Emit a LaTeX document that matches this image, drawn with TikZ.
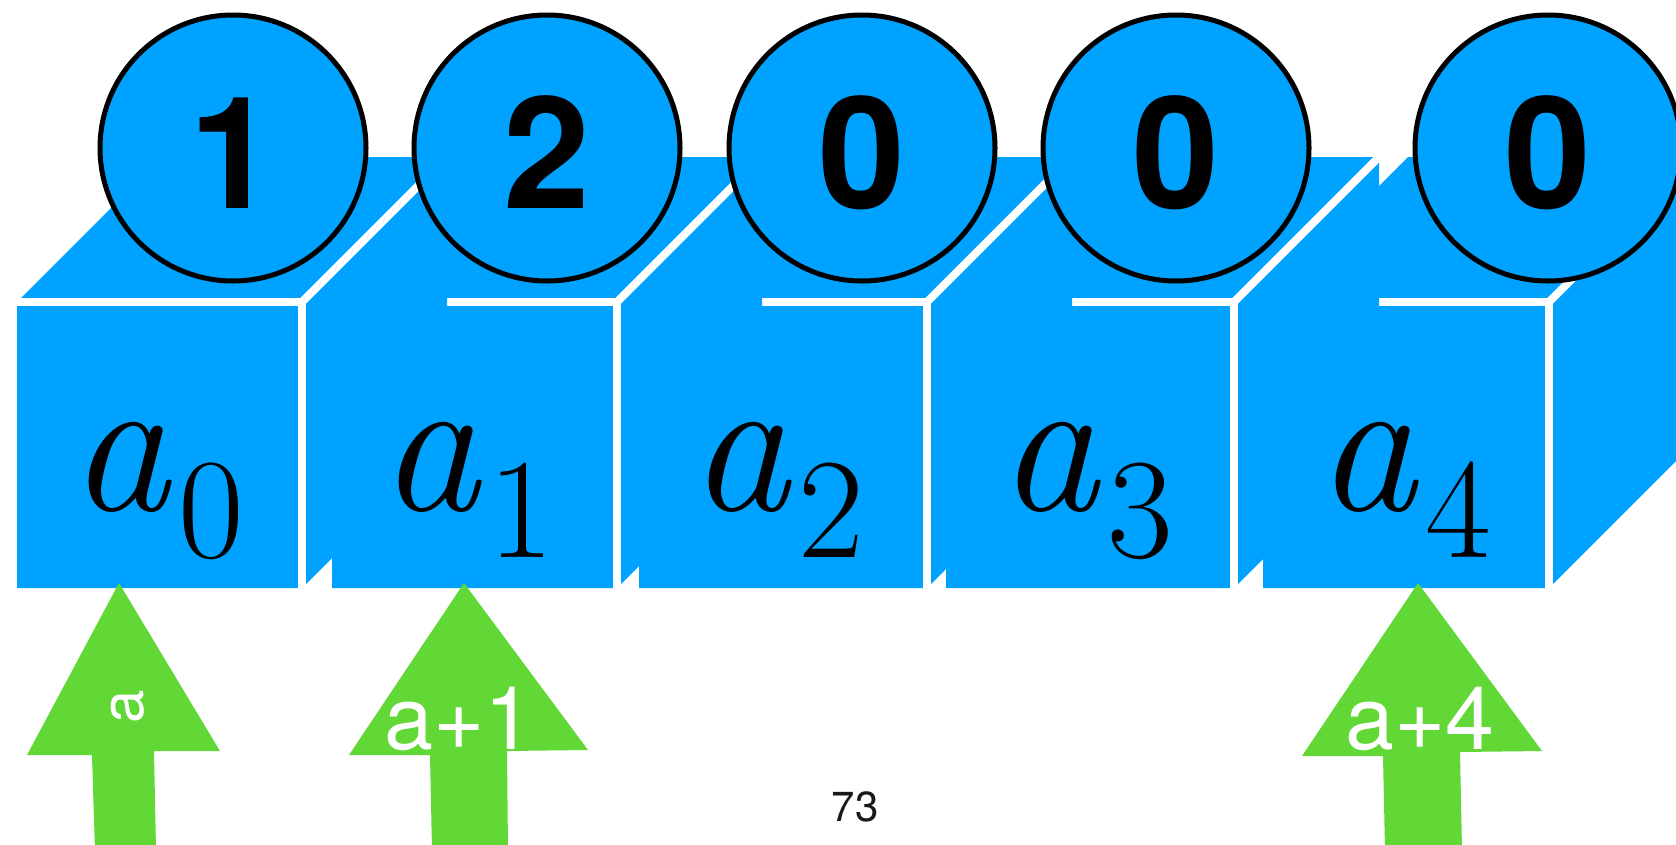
\documentclass[tikz,border=0pt]{standalone}
\usepackage{fontspec}
\newfontfamily\heros{TeX Gyre Heros}
\definecolor{cubeblue}{HTML}{00A2FF}
\definecolor{arrowgreen}{HTML}{61D836}
\newcommand\drawcube[2]{%
  \fill[cubeblue] (#1,588) -- (#1,302) -- ({#1+145},157) -- ({#2+145},157)
     -- ({#2+145},443) -- (#2,588) -- cycle;
  \draw[cubeedge] (#1,302) -- (#2,302) -- (#2,588);
  \draw[cubeedge] (#2,302) -- ({#2+145},157);
}
\newcommand\cellname[2]{\fontsize{200}{200}\selectfont\textit{#1}\kern6pt\raisebox{-47pt}{\fontsize{143}{143}\selectfont #2}}
\begin{document}
\begin{tikzpicture}[x=1pt,y=-1pt,
  cubeedge/.style={draw=white,line width=8pt},
  numcircle/.style={circle,draw=black,line width=5pt,fill=cubeblue,minimum size=266pt,inner sep=0pt},
  digit/.style={font=\heros\bfseries\fontsize{156}{156}\selectfont,anchor=base,inner sep=0pt},
  cellstyle/.style={anchor=base,inner sep=0pt,text=black},
  arrowshape/.style={fill=arrowgreen,draw=none},
  arrowlabel/.style={text=white,font=\heros\fontsize{88}{88}\selectfont,anchor=base,inner sep=0pt}]
\useasboundingbox (0,0) rectangle (1676,844);
\clip (0,0) rectangle (1676,844);
\fill[white] (0,0) rectangle (1676,844);
% cubes, right to left so that left cubes lie on top
\drawcube{1263}{1549}
\drawcube{946}{1234}
\drawcube{639}{927}
\drawcube{332}{617}
\drawcube{17}{302}
% cell names
\node[cellstyle] (n0) at (157,510) {\cellname{a}{0}};
\node[cellstyle] (n1) at (467,510) {\cellname{a}{1}};
\node[cellstyle] (n2) at (777,510) {\cellname{a}{2}};
\node[cellstyle] (n3) at (1086,510) {\cellname{a}{3}};
\node[cellstyle] (n4) at (1404,510) {\cellname{a}{4}};
% value circles
\node[numcircle] (c0) at (233,148) {};
\node[numcircle] (c1) at (547,148) {};
\node[numcircle] (c2) at (862,148) {};
\node[numcircle] (c3) at (1176,148) {};
\node[numcircle] (c4) at (1548,148) {};
\node[digit] (d0) at (233,208) {1};
\node[digit] (d1) at (547,208) {2};
\node[digit] (d2) at (862,208) {0};
\node[digit] (d3) at (1176,208) {0};
\node[digit] (d4) at (1548,208) {0};
% pointer arrows
\fill[arrowshape] (119,583) -- (220,751) -- (154,751) -- (156,850) -- (95,850) -- (92,755) -- (27,755) -- cycle;
\fill[arrowshape] (464,583) -- (588,750) -- (507,751) -- (508,850) -- (432,850) -- (430,755) -- (349,755) -- cycle;
\fill[arrowshape] (1418,583) -- (1542,751) -- (1460,752) -- (1462,850) -- (1385,850) -- (1383,756) -- (1302,756) -- cycle;
\node[text=white,font=\heros\fontsize{60}{60}\selectfont,rotate=90,inner sep=0pt] (p0) at (128,707) {a};
\node[arrowlabel] (p1) at (459,749) {a+1};
\node[arrowlabel] (p4) at (1420,749) {a+4};
% page number
\node[font=\heros\fontsize{42}{42}\selectfont,anchor=base,inner sep=0pt,text=black!90] (pg) at (855,821) {73};
\end{tikzpicture}
\end{document}
